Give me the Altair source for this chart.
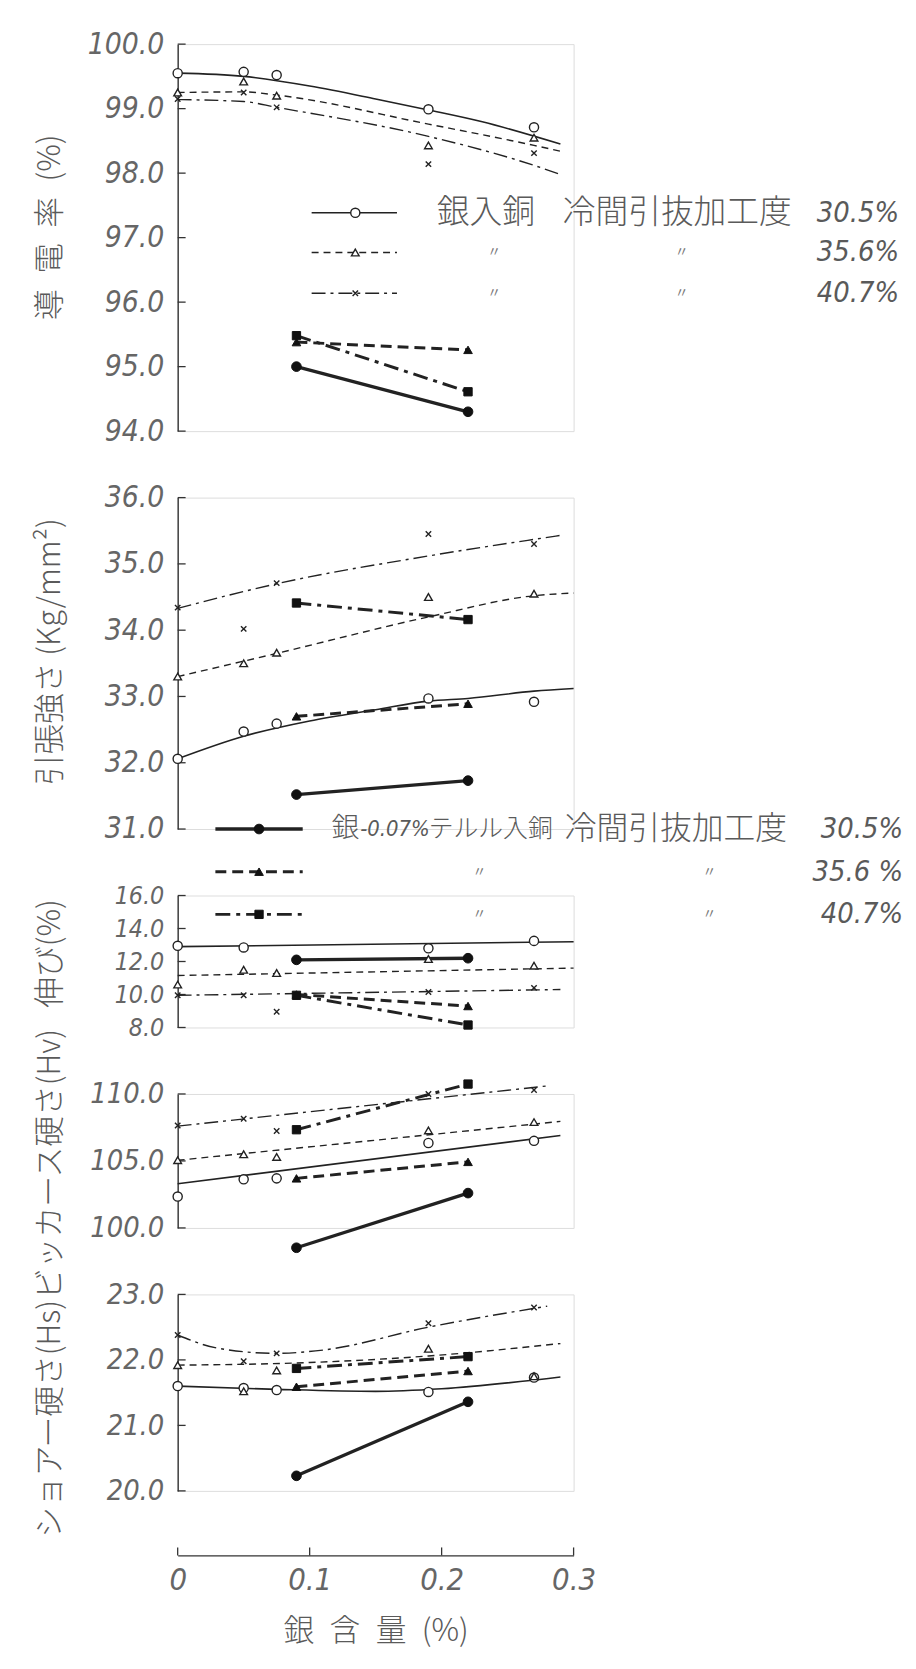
import altair as alt
import pandas as pd

# ---------------- data ----------------
AG_X = [0.0, 0.05, 0.075, 0.19, 0.27]      # 銀入銅 samples (silver %)
TE_X = [0.09, 0.22]                         # 銀-0.07%テルル入銅 samples

# 導電率 (%)
cond_ag305 = [99.55, 99.57, 99.52, 98.99, 98.71]
cond_ag356 = [99.25, 99.42, 99.20, 98.43, 98.55]
cond_ag407 = [99.15, 99.25, 99.02, 98.14, 98.31]
cond_te305 = [95.00, 94.30]
cond_te356 = [95.38, 95.26]
cond_te407 = [95.48, 94.61]
cond_fit305_x = [0, 0.05, 0.1, 0.15, 0.19, 0.23, 0.29]
cond_fit305_y = [99.55, 99.50, 99.35, 99.15, 98.98, 98.80, 98.45]
cond_fit356_x = [0, 0.05, 0.075, 0.19, 0.27, 0.29]
cond_fit356_y = [99.25, 99.26, 99.21, 98.76, 98.43, 98.34]
cond_fit407_x = [0, 0.05, 0.075, 0.19, 0.27, 0.29]
cond_fit407_y = [99.14, 99.11, 99.02, 98.57, 98.12, 97.98]

# 引張強さ (kg/mm2)
ts_ag305 = [32.06, 32.47, 32.59, 32.97, 32.92]
ts_ag356 = [33.30, 33.50, 33.66, 34.50, 34.55]
ts_ag407 = [34.34, 34.02, 34.71, 35.45, 35.30]
ts_te305 = [31.52, 31.73]
ts_te356 = [32.70, 32.89]
ts_te407 = [34.41, 34.16]
ts_fit305_x = [0, 0.05, 0.1, 0.15, 0.19, 0.22, 0.27, 0.3]
ts_fit305_y = [32.06, 32.40, 32.63, 32.80, 32.93, 32.97, 33.08, 33.12]
ts_fit356_x = [0, 0.075, 0.19, 0.27, 0.3]
ts_fit356_y = [33.30, 33.65, 34.20, 34.52, 34.56]
ts_fit407_x = [0, 0.075, 0.19, 0.27, 0.29]
ts_fit407_y = [34.33, 34.70, 35.12, 35.37, 35.43]

# 伸び (%)
el_ag305 = [12.95, 12.85, None, 12.80, 13.25]
el_ag356 = [10.60, 11.50, 11.30, 12.15, 11.75]
el_ag407 = [9.95, 9.95, 8.95, 10.15, 10.40]
el_te305 = [12.10, 12.20]
el_te356 = [10.00, 9.30]
el_te407 = [9.95, 8.15]
el_fit305_x = [0, 0.3]
el_fit305_y = [12.90, 13.20]
el_fit356_x = [0, 0.3]
el_fit356_y = [11.15, 11.60]
el_fit407_x = [0, 0.29]
el_fit407_y = [9.95, 10.30]

# ビッカース硬さ (Hv)
hv_ag305 = [102.34, 103.63, 103.70, 106.34, 106.50]
hv_ag356 = [105.06, 105.50, 105.30, 107.28, 107.90]
hv_ag407 = [107.65, 108.15, 107.23, 110.00, 110.30]
hv_te305 = [98.52, 102.60]
hv_te356 = [103.70, 104.93]
hv_te407 = [107.33, 110.74]
hv_fit305_x = [0, 0.29]
hv_fit305_y = [103.30, 106.90]
hv_fit356_x = [0, 0.29]
hv_fit356_y = [105.05, 107.95]
hv_fit407_x = [0, 0.28]
hv_fit407_y = [107.60, 110.60]

# ショアー硬さ (Hs)
hs_ag305 = [21.60, 21.57, 21.54, 21.51, 21.73]
hs_ag356 = [21.92, 21.52, 21.84, 22.17, 21.75]
hs_ag407 = [22.38, 21.98, 22.10, 22.56, 22.80]
hs_te305 = [20.23, 21.36]
hs_te356 = [21.59, 21.83]
hs_te407 = [21.87, 22.05]
hs_fit305_x = [0, 0.075, 0.15, 0.2, 0.29]
hs_fit305_y = [21.60, 21.55, 21.52, 21.56, 21.74]
hs_fit356_x = [0, 0.1, 0.19, 0.29]
hs_fit356_y = [21.92, 21.96, 22.06, 22.25]
hs_fit407_x = [0, 0.03, 0.075, 0.11, 0.19, 0.28]
hs_fit407_y = [22.38, 22.18, 22.10, 22.15, 22.50, 22.82]

# axis ticks / texts
cond_ticks = [94, 95, 96, 97, 98, 99, 100]
ts_ticks = [31, 32, 33, 34, 35, 36]
el_ticks = [8, 10, 12, 14, 16]
hv_ticks = [100, 105, 110]
hs_ticks = [20, 21, 22, 23]
x_ticks = [0, 0.1, 0.2, 0.3]

cond_title = "導\u2002電\u2002率\u2002(%)"
ts_title = "引張強さ (Kg/mm²)"
el_title = "伸び(%)"
hv_title = "ビッカース硬さ(Hv)"
hs_title = "ショアー硬さ(Hs)"
x_title = "銀\u2002含\u2002量\u2002(%)"

leg1_name = ["銀入銅"]
leg2_name = ["銀", "-0.07%", "テルル入銅"]
leg_proc = ["冷間引抜加工度"]
leg1_pct = ["30.5%", "35.6%", "40.7%"]
leg2_pct = ["30.5%", "35.6 %", "40.7%"]
ditto = ["〃"]

# ---------------- styles ----------------
JP = "Noto Sans CJK JP"
NUM = "Liberation Sans Narrow, DejaVu Sans Condensed, Liberation Sans, sans-serif"
INK = "#222222"
TXT = "#5a5a5a"
XPATH = "M-1,-1L1,1M-1,1L1,-1"
STY = {
    "ag305": dict(dash=None, w=1.6, shape="circle", filled=False, size=85),
    "ag356": dict(dash=[7, 5], w=1.4, shape="triangle-up", filled=False, size=60),
    "ag407": dict(dash=[14, 5, 3, 5], w=1.4, shape=XPATH, filled=False, size=30),
    "te305": dict(dash=None, w=3.4, shape="circle", filled=True, size=95),
    "te356": dict(dash=[11, 6], w=3.0, shape="triangle-up", filled=True, size=75),
    "te407": dict(dash=[15, 6, 4, 6], w=3.0, shape="square", filled=True, size=70),
}
W = 399
SPACING = 67
XSCALE = alt.Scale(domain=[0, 0.3], nice=False, zero=False)


def point_df(ag, te):
    rows = []
    for s, vals in zip(["ag305", "ag356", "ag407"], ag):
        for x, v in zip(AG_X, vals):
            if v is not None:
                rows.append({"x": x, "v": v, "s": s, "o": x})
    for s, vals in zip(["te305", "te356", "te407"], te):
        for x, v in zip(TE_X, vals):
            rows.append({"x": x, "v": v, "s": s, "o": x})
    return pd.DataFrame(rows)


def fit_df(fits):
    rows = []
    for s, xs, ys in fits:
        for i, (x, v) in enumerate(zip(xs, ys)):
            rows.append({"x": x, "v": v, "s": s, "o": i})
    return pd.DataFrame(rows)


def line_kw(s):
    st = STY[s]
    kw = dict(color=INK, strokeWidth=st["w"], strokeCap="butt")
    if st["dash"]:
        kw["strokeDash"] = st["dash"]
    return kw


def point_kw(s):
    st = STY[s]
    if s == "ag407":
        return dict(shape=st["shape"], size=st["size"], filled=False, stroke=INK,
                    strokeWidth=1.4, opacity=1)
    if st["filled"]:
        return dict(shape=st["shape"], size=st["size"], filled=True, fill="#111111",
                    stroke="#111111", strokeWidth=1, opacity=1)
    return dict(shape=st["shape"], size=st["size"], filled=True, fill="white",
                stroke=INK, strokeWidth=1.4, opacity=1)


def panel(h, dom, ticks, title, title_y, lab_size, ag, te, fits, bottom=False, extra=None):
    yenc = alt.Y("v:Q", scale=alt.Scale(domain=dom, nice=False, zero=False),
                 axis=alt.Axis(values=ticks, format=".1f", title=title, ticks=False,
                               grid=False, domainColor="#333333", domainWidth=1.4,
                               labelFont=NUM, labelFontStyle="italic",
                               labelFontSize=lab_size, labelColor="#666666", labelPadding=14,
                               titleFont=JP, titleFontSize=31, titleFontWeight=300,
                               titleColor=TXT, titleX=-128, titleY=title_y,
                               titleAngle=270, titleBaseline="middle", titleAlign="center"))
    if bottom:
        xenc = alt.X("x:Q", scale=XSCALE,
                     axis=alt.Axis(values=x_ticks, offset=65, ticks=False, grid=False,
                                   labelExpr="datum.value == 0 ? '0' : format(datum.value, '.1f')",
                                   labelFlush=False, labelFont=NUM, labelFontStyle="italic",
                                   labelFontSize=31, labelColor="#666666", labelPadding=10,
                                   domainColor="#333333", domainWidth=1.4,
                                   title=x_title, titleFont=JP, titleFontSize=31,
                                   titleFontWeight=300, titleColor=TXT, titlePadding=22))
    else:
        xenc = alt.X("x:Q", scale=XSCALE, axis=None)

    pts = point_df(ag, te)
    fd = fit_df(fits)
    layers = []
    # inward y ticks
    layers.append(alt.Chart(pd.DataFrame({"v": ticks})).mark_rule(color="#333333", strokeWidth=1.3)
                  .encode(y=yenc, x=alt.value(0), x2=alt.value(8)))
    for s in ["ag305", "ag356", "ag407"]:
        layers.append(alt.Chart(fd).transform_filter(alt.datum.s == s)
                      .mark_line(interpolate="monotone", **line_kw(s))
                      .encode(x=xenc, y=yenc, order="o:Q"))
    for s in ["te305", "te356", "te407"]:
        layers.append(alt.Chart(pts).transform_filter(alt.datum.s == s)
                      .mark_line(**line_kw(s))
                      .encode(x=xenc, y=yenc, order="o:Q"))
    for s in ["ag305", "ag356", "ag407", "te305", "te356", "te407"]:
        layers.append(alt.Chart(pts).transform_filter(alt.datum.s == s)
                      .mark_point(**point_kw(s))
                      .encode(x=xenc, y=yenc))
    if bottom:
        layers.append(alt.Chart(pd.DataFrame({"x": x_ticks})).mark_rule(color="#333333", strokeWidth=1.3)
                      .encode(x=xenc, y=alt.value(h + 65), y2=alt.value(h + 57)))
    if extra:
        layers.extend(extra)
    return alt.layer(*layers).properties(width=W, height=h)


def legend_layers(series, rows_y, x1, x2, xm, name_parts, proc_x, pct, pct_x,
                  ditto_x, fs, pfs):
    one = pd.DataFrame({"k": [0]})
    out = []
    for s, y in zip(series, rows_y):
        out.append(alt.Chart(one).mark_rule(**line_kw(s))
                   .encode(x=alt.value(x1), x2=alt.value(x2), y=alt.value(y)))
        out.append(alt.Chart(one).mark_point(**point_kw(s))
                   .encode(x=alt.value(xm), y=alt.value(y)))
    for txt, x, italic, size in name_parts:
        out.append(alt.Chart(pd.DataFrame({"t": [txt]}))
                   .mark_text(align="left", baseline="middle", font=NUM if italic else JP,
                              fontStyle="italic" if italic else "normal",
                              fontWeight="normal" if italic else 300,
                              fontSize=size, color=TXT)
                   .encode(x=alt.value(x), y=alt.value(rows_y[0]), text="t:N"))
    out.append(alt.Chart(pd.DataFrame({"t": leg_proc}))
               .mark_text(align="left", baseline="middle", font=JP, fontWeight=300,
                          fontSize=fs, color=TXT)
               .encode(x=alt.value(proc_x), y=alt.value(rows_y[0]), text="t:N"))
    for p, y in zip(pct, rows_y):
        out.append(alt.Chart(pd.DataFrame({"t": [p]}))
                   .mark_text(align="right", baseline="middle", font=NUM, fontStyle="italic",
                              fontSize=pfs, color=TXT)
                   .encode(x=alt.value(pct_x), y=alt.value(y), text="t:N"))
    for y in rows_y[1:]:
        for dx in ditto_x:
            out.append(alt.Chart(pd.DataFrame({"t": ditto}))
                       .mark_text(align="center", baseline="middle", font=JP, fontSize=14,
                                  color="#777777")
                       .encode(x=alt.value(dx), y=alt.value(y), text="t:N"))
    return out


H1, H2, H3, H4, H5 = 390, 334, 133, 135, 198

leg1 = legend_layers(["ag305", "ag356", "ag407"], [170, 210, 251], 135, 221, 179,
                     [(leg1_name[0], 261, False, 33)], 388, leg1_pct, 727, [319, 508], 33, 29)
leg2 = legend_layers(["te305", "te356", "te407"], [334, 377, 420], 38, 126, 82,
                     [(leg2_name[0], 155, False, 28), (leg2_name[1], 184, True, 22),
                      (leg2_name[2], 253, False, 25)],
                     390, leg2_pct, 731, [304, 536], 32, 29)

p1 = panel(H1, [94, 100], cond_ticks, cond_title, 184, 30,
           [cond_ag305, cond_ag356, cond_ag407], [cond_te305, cond_te356, cond_te407],
           [("ag305", cond_fit305_x, cond_fit305_y), ("ag356", cond_fit356_x, cond_fit356_y),
            ("ag407", cond_fit407_x, cond_fit407_y)], extra=leg1)
p2 = panel(H2, [31, 36], ts_ticks, ts_title, 155, 30,
           [ts_ag305, ts_ag356, ts_ag407], [ts_te305, ts_te356, ts_te407],
           [("ag305", ts_fit305_x, ts_fit305_y), ("ag356", ts_fit356_x, ts_fit356_y),
            ("ag407", ts_fit407_x, ts_fit407_y)], extra=leg2)
p3 = panel(H3, [8, 16], el_ticks, el_title, 58, 25,
           [el_ag305, el_ag356, el_ag407], [el_te305, el_te356, el_te407],
           [("ag305", el_fit305_x, el_fit305_y), ("ag356", el_fit356_x, el_fit356_y),
            ("ag407", el_fit407_x, el_fit407_y)])
p4 = panel(H4, [100, 110], hv_ticks, hv_title, 70, 29,
           [hv_ag305, hv_ag356, hv_ag407], [hv_te305, hv_te356, hv_te407],
           [("ag305", hv_fit305_x, hv_fit305_y), ("ag356", hv_fit356_x, hv_fit356_y),
            ("ag407", hv_fit407_x, hv_fit407_y)])
p5 = panel(H5, [20, 23], hs_ticks, hs_title, 125, 29,
           [hs_ag305, hs_ag356, hs_ag407], [hs_te305, hs_te356, hs_te407],
           [("ag305", hs_fit305_x, hs_fit305_y), ("ag356", hs_fit356_x, hs_fit356_y),
            ("ag407", hs_fit407_x, hs_fit407_y)], bottom=True)

chart = alt.vconcat(p1, p2, p3, p4, p5, spacing=SPACING, bounds="flush",
                    padding={"left": 26, "top": 14, "right": 4, "bottom": 4}
                    ).configure_view(stroke=None).configure(background="white")

chart.save("out.html", embed_options={"renderer": "svg", "actions": False})
